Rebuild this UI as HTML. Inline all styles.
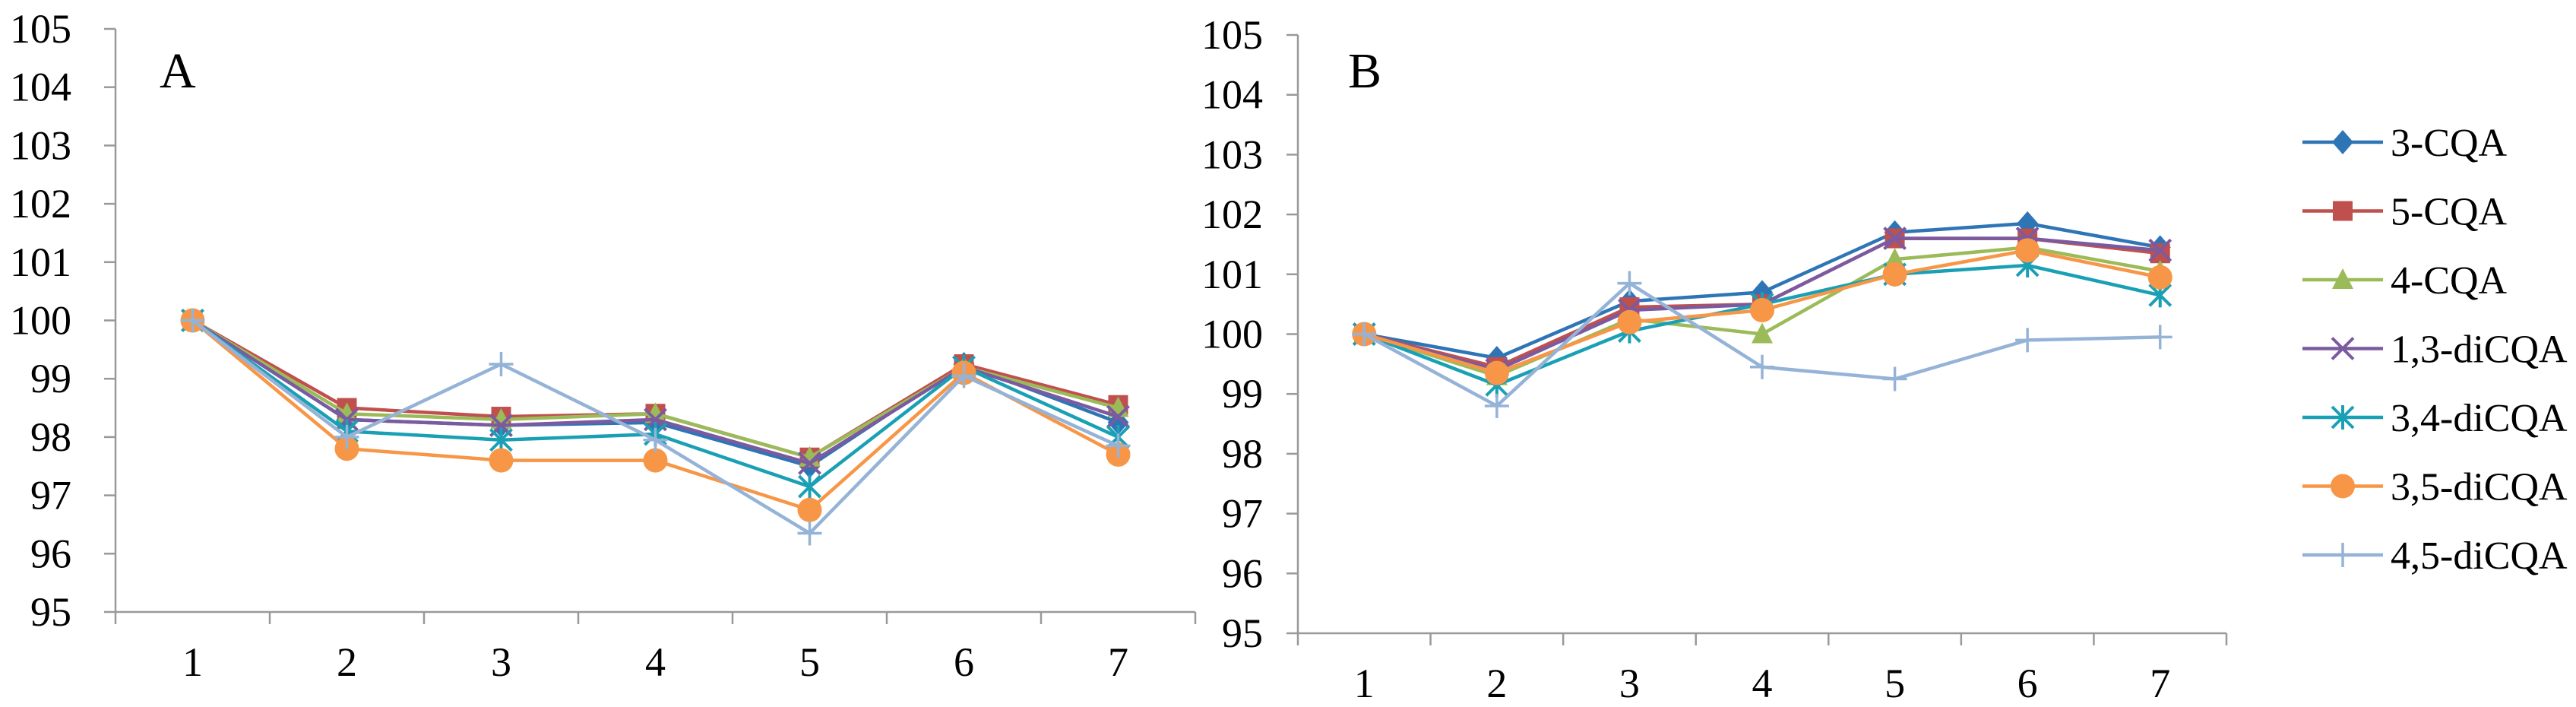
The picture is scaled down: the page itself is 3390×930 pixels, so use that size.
<!DOCTYPE html>
<html><head><meta charset="utf-8"><style>
body{margin:0;background:#fff}
svg{display:block}
text{font-family:"Liberation Serif",serif;fill:#000}
</style></head><body>
<svg id="c" width="3390" height="930"></svg>
<script>
const categories=[1,2,3,4,5,6,7];
const yTicks=[95,96,97,98,99,100,101,102,103,104,105];
const seriesNames=["3-CQA","5-CQA","4-CQA","1,3-diCQA","3,4-diCQA","3,5-diCQA","4,5-diCQA"];
const colors=["#2e75b6","#c0504d","#9bbb59","#7b5aa0","#1aa0b4","#f79646","#95b3d7"];
const markers=["diamond","square","triangle","x","star","circle","plus"];
const dataA_3CQA=[100,98.3,98.2,98.25,97.5,99.25,98.25];
const dataA_5CQA=[100,98.5,98.35,98.4,97.65,99.25,98.55];
const dataA_4CQA=[100,98.4,98.3,98.4,97.65,99.2,98.5];
const dataA_13=[100,98.3,98.2,98.3,97.55,99.2,98.35];
const dataA_34=[100,98.1,97.95,98.05,97.15,99.2,98.0];
const dataA_35=[100,97.8,97.6,97.6,96.75,99.1,97.7];
const dataA_45=[100,98.0,99.25,97.95,96.35,99.05,97.85];
const dataB_3CQA=[100,99.6,100.55,100.7,101.7,101.85,101.45];
const dataB_5CQA=[100,99.45,100.45,100.5,101.6,101.6,101.35];
const dataB_4CQA=[100,99.3,100.25,100,101.25,101.45,101.05];
const dataB_13=[100,99.4,100.4,100.5,101.6,101.6,101.4];
const dataB_34=[100,99.15,100.05,100.5,101.0,101.15,100.65];
const dataB_35=[100,99.35,100.2,100.4,101.0,101.4,100.95];
const dataB_45=[100,98.8,100.85,99.45,99.25,99.9,99.95];
const NS="http://www.w3.org/2000/svg";
const svg=document.getElementById('c');
function mk(tag,attrs,parent){const e=document.createElementNS(NS,tag);for(const k in attrs)e.setAttribute(k,attrs[k]);(parent||svg).appendChild(e);return e;}
function marker(type,x,y,col,g){
  const s=14;let e;
  if(type==="diamond")e=mk('polygon',{points:`${x},${y-s-2} ${x+s},${y} ${x},${y+s+2} ${x-s},${y}`,fill:col},g);
  else if(type==="square")e=mk('rect',{x:x-s+1,y:y-s+1,width:2*s-2,height:2*s-2,fill:col},g);
  else if(type==="triangle")e=mk('polygon',{points:`${x},${y-s-1} ${x+s},${y+s-2} ${x-s},${y+s-2}`,fill:col},g);
  else if(type==="circle")e=mk('circle',{cx:x,cy:y,r:s+2,fill:col},g);
  else if(type==="x")e=mk('path',{d:`M${x-s} ${y-s}L${x+s} ${y+s}M${x-s} ${y+s}L${x+s} ${y-s}`,stroke:col,'stroke-width':4},g);
  else if(type==="star")e=mk('path',{d:`M${x-s} ${y-s}L${x+s} ${y+s}M${x-s} ${y+s}L${x+s} ${y-s}M${x} ${y-s-2}L${x} ${y+s+2}`,stroke:col,'stroke-width':4},g);
  else e=mk('path',{d:`M${x-s-2} ${y}L${x+s+2} ${y}M${x} ${y-s-2}L${x} ${y+s+2}`,stroke:col,'stroke-width':3.5},g);
  return e;
}
function panel(id,x0,x1,yTop,yBot,letter,lx,series,labelX){
  const g=mk('g',{});
  
  
  const ys=v=>yBot-(v-95)/10*(yBot-yTop);
  const cw=(x1-x0)/categories.length;
  const xs=i=>x0+cw*(i+0.5);
  const ya=mk('line',{x1:x0,y1:yTop,x2:x0,y2:yBot,stroke:'#999','stroke-width':2.5},g);
  
  
  const xa=mk('line',{x1:x0,y1:yBot,x2:x1,y2:yBot,stroke:'#999','stroke-width':2.5},g);
  
  
  yTicks.forEach(v=>{
    mk('line',{x1:x0-15,y1:ys(v),x2:x0,y2:ys(v),stroke:'#999','stroke-width':2.5},g);
    const t=mk('text',{x:labelX,y:ys(v)+18,'text-anchor':'end','font-size':54},g);
    t.textContent=v;
    
    
  });
  for(let i=0;i<=categories.length;i++)mk('line',{x1:x0+cw*i,y1:yBot,x2:x0+cw*i,y2:yBot+16,stroke:'#999','stroke-width':2.5},g);
  categories.forEach((c,i)=>{
    const t=mk('text',{x:xs(i),y:yBot+84,'text-anchor':'middle','font-size':54},g);
    t.textContent=c;
    
    
  });
  const L=mk('text',{x:lx,y:115,'font-size':66},g);L.textContent=letter;
  
  
  series.forEach((d,si)=>{
    const sg=mk('g',{},g);
    
    
    const p=mk('polyline',{points:d.map((v,i)=>xs(i)+','+ys(v)).join(' '),fill:'none',stroke:colors[si],'stroke-width':4.5},sg);
    
    d.forEach((v,i)=>{const m=marker(markers[si],xs(i),ys(v),colors[si],sg);
      
      });
  });
}
panel('a',152,1573,38,805,'A',210,[dataA_3CQA,dataA_5CQA,dataA_4CQA,dataA_13,dataA_34,dataA_35,dataA_45],94);
panel('b',1708,2930,46,833,'B',1774,[dataB_3CQA,dataB_5CQA,dataB_4CQA,dataB_13,dataB_34,dataB_35,dataB_45],1662);
const lg=mk('g',{});


seriesNames.forEach((n,i)=>{
  const y=187+i*90.5;
  const e=mk('g',{},lg);
  
  
  mk('line',{x1:3030,y1:y,x2:3136,y2:y,stroke:colors[i],'stroke-width':4.5},e);
  marker(markers[i],3083,y,colors[i],e);
  const t=mk('text',{x:3146,y:y+18,'font-size':52},e);t.textContent=n;
});
</script>
</body></html>
